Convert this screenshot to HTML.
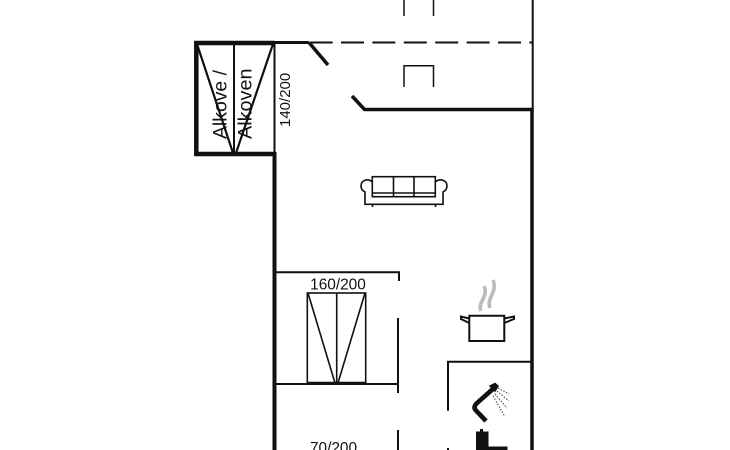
<!DOCTYPE html>
<html><head><meta charset="utf-8"><style>
html,body{margin:0;padding:0;background:#fff;width:730px;height:450px;overflow:hidden}
svg{display:block}
text{font-family:"Liberation Sans",sans-serif;fill:#111}
</style></head><body>
<svg width="730" height="450" viewBox="0 0 730 450" xmlns="http://www.w3.org/2000/svg">
<g fill="none" stroke="#111" stroke-linecap="butt">
<!-- alcove walls -->
<path d="M275 43H196.3V154H276" stroke-width="4.5"/>
<path d="M275 42.5H309" stroke-width="3"/>
<path d="M274.5 42V154" stroke-width="2"/>
<path d="M274.5 152V450" stroke-width="4"/>
<path d="M234 43V154" stroke-width="2"/>
<path d="M197 44L233 153M273 44L236 153" stroke-width="2.2"/>
<!-- doors -->
<path d="M309 42.5L328 65" stroke-width="3.5"/>
<path d="M352 96L364.5 109.5H533" stroke-width="3.5"/>
<!-- dashed -->
<path d="M309 42.5H533" stroke-width="2" stroke-dasharray="23 8.4" stroke-dashoffset="-0.6"/>
<!-- right wall -->
<path d="M532.7 0V110" stroke-width="2"/>
<path d="M532 108V450" stroke-width="3.5"/>
<!-- chimney marks -->
<path d="M404 0V16M433.5 0V16" stroke-width="1.5"/>
<path d="M404 87V65.7H433.5V87" stroke-width="1.5"/>
<!-- sofa -->
<g stroke-width="1.6">
<rect x="372.3" y="176.7" width="63" height="20"/>
<path d="M393.5 176.7V196.7M414 176.7V196.7M372.3 193H435.3"/>
<path d="M372.3 182C368 178 361 180 361 186C361 189 363 191 365 192V204.3H443V192C445 191 447 189 447 186C447 180 440 178 435.3 182"/>
<path d="M372.5 204.3V207M435.5 204.3V207"/>
</g>
<!-- bedroom -->
<path d="M275 272.3H399V281" stroke-width="2"/>
<path d="M398 318V393M398 430V450" stroke-width="2"/>
<path d="M275 384H398" stroke-width="2"/>
<rect x="307.3" y="293" width="58.4" height="90" stroke-width="1.6"/>
<path d="M336.7 293V383" stroke-width="1.6"/>
<path d="M308 293L335 383M365 293L338 383" stroke-width="1.6"/>
<path d="M307 383H366" stroke-width="2.5"/>
<!-- bath -->
<path d="M532 361.7H448V410.7M448 448V450" stroke-width="2"/>
<!-- pot -->
<g stroke-width="2">
<path d="M469.3 315.7H504.3V341H469.3Z" fill="#fff"/>
<path d="M469.3 318.5L461 316.5V319L469.3 323M504.3 318.5L514 316.5V319L504.3 323"/>
</g>
<path d="M481 311C477 302 489 297 484 286M490 308C486 298 498 292 493 280" stroke="#bbb" stroke-width="3.6"/>
<!-- shower -->
<path d="M494 388L477 403Q473 407 475.5 410L486 421" stroke-width="4.6"/>
<path d="M490 386L495 383.5L498 386L495 391Z" fill="#111" stroke-width="1.5"/>
<path d="M498 388L509 394M497 391L509 401M495 394L507 408M493 396L505 417" stroke="#444" stroke-width="1" stroke-dasharray="1.5 1.5"/>
</g>
<!-- toilet -->
<path d="M476 431.5H480V429H483V431.5H488.5V446.5H507.5V450H476Z" fill="#111"/>
<text x="338" y="289.5" font-size="15.4" text-anchor="middle">160/200</text>
<text x="333.5" y="453" font-size="15.4" text-anchor="middle">70/200</text>
<text transform="translate(290,127) rotate(-90)" font-size="15">140/200</text>
<text transform="translate(226.7,139) rotate(-90)" font-size="19.5" textLength="69" lengthAdjust="spacingAndGlyphs">Alkove /</text>
<text transform="translate(251.7,139) rotate(-90)" font-size="19.5" textLength="70.5" lengthAdjust="spacingAndGlyphs">Alkoven</text>
</svg>
</body></html>
